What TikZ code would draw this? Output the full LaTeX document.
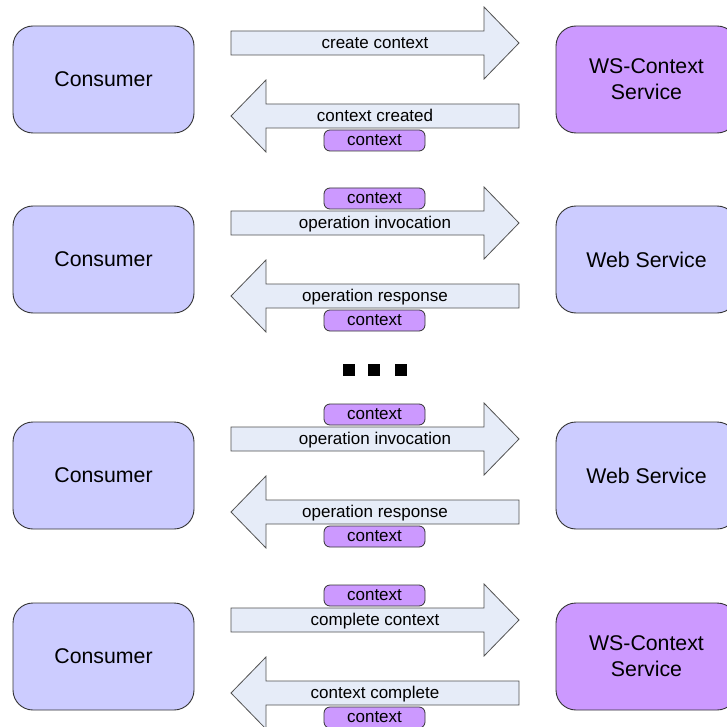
\documentclass[tikz,border=0pt]{standalone}
\usepackage{fontspec}
\setmainfont{Liberation Sans}
\definecolor{consc}{HTML}{CCCCFF}
\definecolor{wsc}{HTML}{CC99FF}
\definecolor{arrc}{HTML}{E6ECF8}
\definecolor{linec}{HTML}{333333}
\tikzset{
  box/.style={draw=linec, line width=0.9pt, rounded corners=20pt,
    minimum width=181pt, minimum height=107pt, inner sep=0pt, align=center,
    font=\fontsize{21.3}{26}\selectfont},
  consbox/.style={box, fill=consc},
  wsbox/.style={box, fill=wsc},
  blockarrow/.style={draw=linec!85, line width=0.8pt, fill=arrc, line join=miter},
  lbl/.style={inner sep=0pt, text height=1.12em, text depth=0pt,
    font=\fontsize{17}{19}\selectfont},
  tagbox/.style={draw=linec, line width=0.8pt, fill=wsc, rounded corners=6pt,
    minimum width=101pt, minimum height=21pt, inner sep=0pt,
    text height=1.08em, text depth=0pt, font=\fontsize{17}{19}\selectfont},
  dotsq/.style={fill=black, minimum size=12pt, inner sep=0pt}
}
% #1 prefix, #2 y offset, #3 right style, #4 right text, #5 top label, #6 bottom label, #7 upper tag (1/0)
\newcommand\msgrow[7]{%
\begin{scope}[shift={(0,#2)}]
  \node[consbox] (#1c) at (103.5,79.5) {Consumer};
  \node[#3] (#1s) at (646.5,79.5) {#4};
  \draw[blockarrow] (231,31)--(484,31)--(484,7)--(519,43)--(484,79)--(484,55)--(231,55)--cycle;
  \node[lbl] (#1a) at (375,43) {#5};
  \draw[blockarrow] (519,104)--(266,104)--(266,80)--(231,116)--(266,152)--(266,128)--(519,128)--cycle;
  \node[lbl] (#1b) at (375,116) {#6};
  \node[tagbox] (#1t) at (374.5,140.5) {context};
  \ifnum#7=1 \node[tagbox] (#1u) at (374.5,18.5) {context};\fi
\end{scope}}
\begin{document}
\begin{tikzpicture}[x=1pt,y=-1pt]
  \useasboundingbox (0,0) rectangle (727,727);
  \clip (0,0) rectangle (727,727);
  \fill[white] (0,0) rectangle (727,727);
  \msgrow{r1}{0}{wsbox}{WS-Context\\Service}{create context}{context created}{0}
  \msgrow{r2}{180}{consbox}{Web Service}{operation invocation}{operation response}{1}
  \node[dotsq] (d1) at (349,370) {};
  \node[dotsq] (d2) at (374,370) {};
  \node[dotsq] (d3) at (401,370) {};
  \msgrow{r3}{396}{consbox}{Web Service}{operation invocation}{operation response}{1}
  \msgrow{r4}{577}{wsbox}{WS-Context\\Service}{complete context}{context complete}{1}
\end{tikzpicture}
\end{document}
